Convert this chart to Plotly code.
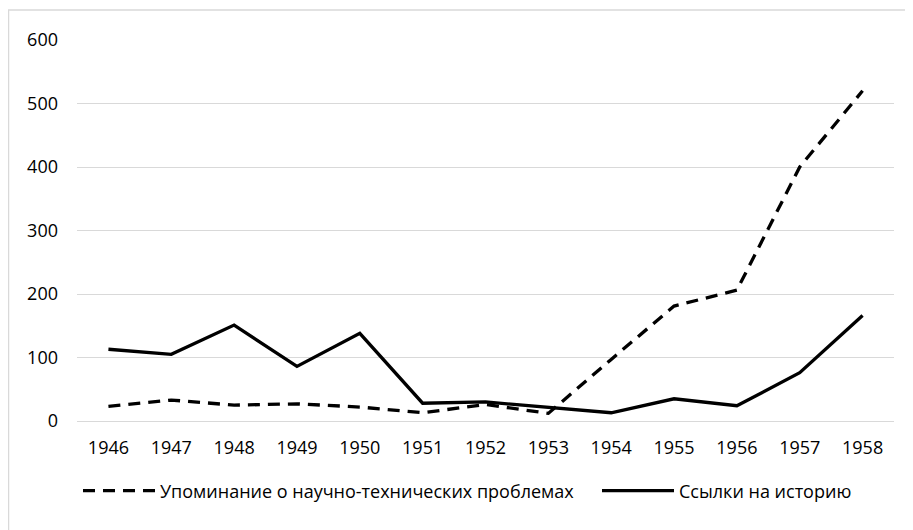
import plotly.graph_objects as go

years = ["1946", "1947", "1948", "1949", "1950", "1951", "1952", "1953",
         "1954", "1955", "1956", "1957", "1958"]
problems = [23, 33, 25, 27, 22, 13, 26, 12, 97, 181, 206, 400, 520]
history = [113, 105, 151, 86, 138, 28, 30, 21, 13, 35, 24, 76, 166]

name_problems = "Упоминание о научно-технических проблемах"
name_history = "Ссылки на историю"

FONT = "Open Sans, Noto Sans, sans-serif"

# page body has an 8px margin, so the figure is offset by 8px
OFF = 8
W, H = 913 - OFF, 530 - OFF
ml, mr, mt, mb = 77 - OFF, 19, 40 - OFF, 109
pw, ph = W - ml - mr, H - mt - mb

def px2paper_x(px):
    return (px - OFF - ml) / pw

def px2paper_y(py):
    return (H - mb - (py - OFF)) / ph

fig = go.Figure()
fig.add_trace(go.Scatter(x=years, y=problems, mode="lines", name=name_problems,
                         legend="legend",
                         line=dict(color="black", width=3.3, dash="12px,8px")))
fig.add_trace(go.Scatter(x=years, y=history, mode="lines", name=name_history,
                         legend="legend2",
                         line=dict(color="black", width=3.3)))

fig.add_shape(type="rect", xref="paper", yref="paper",
              x0=px2paper_x(8.5), x1=px2paper_x(912), y0=px2paper_y(545), y1=px2paper_y(10),
              line=dict(color="#d9d9d9", width=1.5), fillcolor="rgba(0,0,0,0)", layer="below")

leg_common = dict(orientation="h", yanchor="middle", y=px2paper_y(491), xanchor="left",
                  font=dict(size=18), itemwidth=72, bgcolor="rgba(0,0,0,0)")

fig.update_layout(
    width=W, height=H,
    margin=dict(l=ml, r=mr, t=mt, b=mb),
    paper_bgcolor="white", plot_bgcolor="white",
    font=dict(family=FONT, size=18, color="black"),
    showlegend=True,
    legend=dict(x=px2paper_x(78), **leg_common),
    legend2=dict(x=px2paper_x(597), **leg_common),
    xaxis=dict(type="category", range=[-0.5, 12.5], showgrid=False, showline=False, zeroline=False,
               ticks="", ticklabelstandoff=14, tickfont=dict(size=18)),
    yaxis=dict(range=[0, 600], dtick=100, showgrid=True, gridcolor="#d9d9d9", gridwidth=1.3,
               zeroline=True, zerolinecolor="#d9d9d9", zerolinewidth=1.3, showline=False,
               ticks="", ticklabelstandoff=18, tickfont=dict(size=18)),
)

fig.write_html("out.html")
